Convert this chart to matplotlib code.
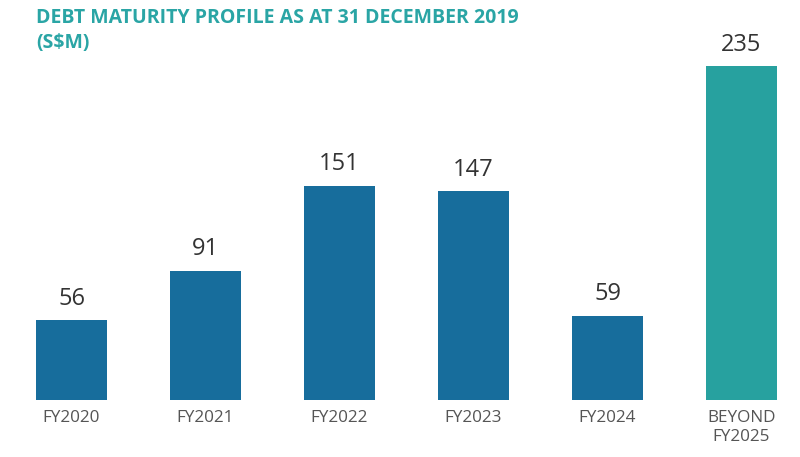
import numpy as np
import matplotlib.pyplot as plt

plt.rcParams['font.family'] = ['Open Sans', 'DejaVu Sans']

categorias = ["FY2020", "FY2021", "FY2022", "FY2023", "FY2024", "BEYOND\nFY2025"]
valores = [56, 91, 151, 147, 59, 235]
colores = ["#176d9c"] * 5 + ["#27a19f"]

fig = plt.figure(figsize=(8, 4.57), dpi=100)
ax = fig.add_axes([0, 57 / 457, 1, 400 / 457])

x = np.arange(len(categorias))
ax.bar(x, valores, width=0.53, color=colores)

for xi, v in zip(x, valores):
    ax.annotate(str(v), (xi, v), xytext=(0, 7), textcoords="offset points",
                ha="center", va="bottom", fontsize=17, color="#333333")

ax.set_xlim(-71.5 / 134, (800 - 71.5) / 134)
ax.set_ylim(0, 400 / 1.42)
ax.set_xticks(x)
ax.set_xticklabels(categorias, fontsize=12.3, color="#555555", linespacing=1.3)
ax.tick_params(axis="x", length=0, pad=7)
ax.set_yticks([])
for s in ax.spines.values():
    s.set_visible(False)

fig.text(36 / 800, 1 - 18 / 457, "DEBT MATURITY PROFILE AS AT 31 DECEMBER 2019",
         fontsize=14, fontweight="bold", color="#2aa5a5", va="center")
fig.text(36 / 800, 1 - 43 / 457, "(S$M)",
         fontsize=14, fontweight="bold", color="#2aa5a5", va="center")

plt.savefig("out.png")
